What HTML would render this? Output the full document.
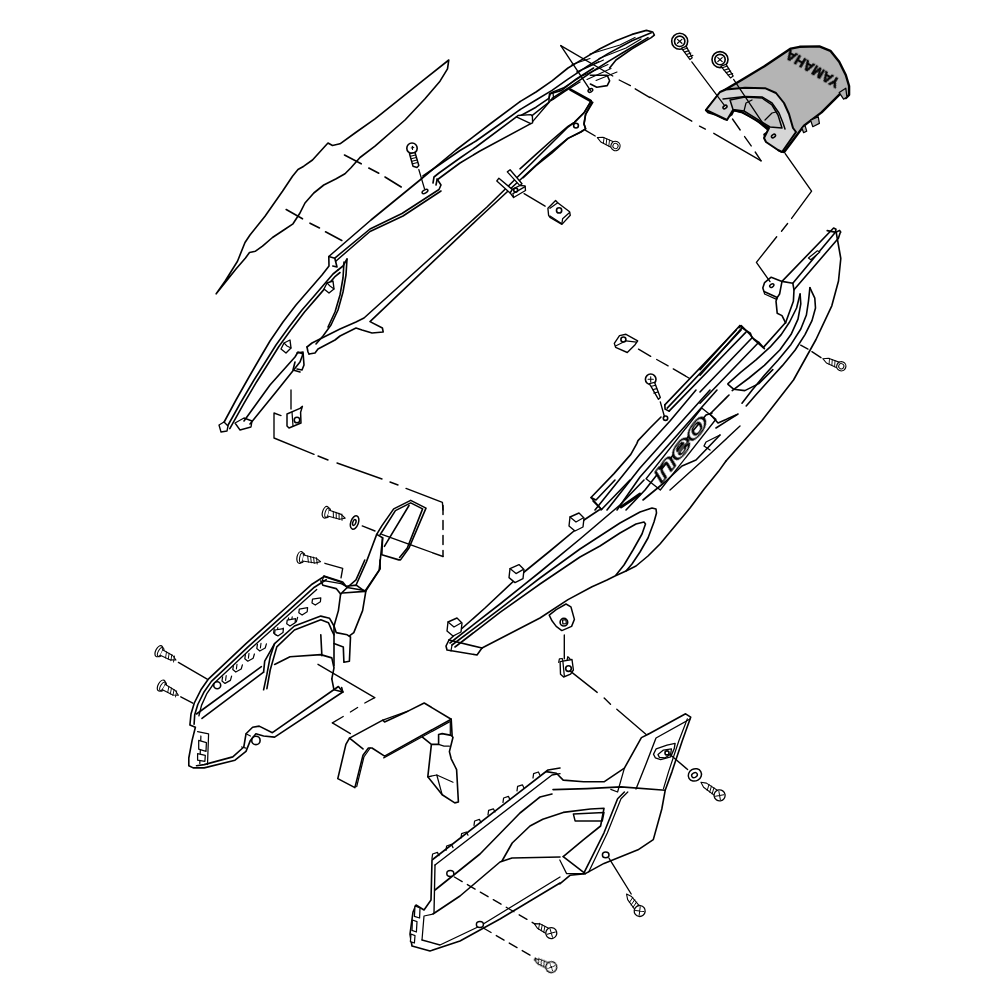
<!DOCTYPE html>
<html><head><meta charset="utf-8"><style>
html,body{margin:0;padding:0;background:#fff;}
svg{display:block;}
</style></head><body>
<svg width="1000" height="1000" viewBox="0 0 1000 1000">
<g fill="none" stroke="#000" stroke-linejoin="round" stroke-linecap="round">
<polyline points="216.2,293.8 225.0,281.2 237.5,261.2 245.0,242.5 250.0,235.0 265.0,216.2 282.5,191.2 292.5,176.2 298.0,169.5 303.8,166.2 312.5,160.0 325.0,146.2 328.0,143.0 332.5,145.5 340.0,143.8 355.0,133.0 375.0,118.8 400.0,98.8 425.0,78.8 448.8,60.0 447.5,68.8 440.0,81.2 425.0,98.8 405.0,120.0 375.0,146.2 360.0,157.5 351.2,167.5 345.0,173.8 336.2,178.8 323.8,185.0 313.8,193.0 305.0,203.0 299.5,213.8 293.0,223.8 283.8,230.0 272.5,237.5 262.5,246.2 255.5,251.2 249.5,252.5 245.5,258.0 236.2,268.8 226.2,281.2 216.2,293.8" stroke-width="1.62" />
<polyline points="344.5,155.0 361.2,163.8" stroke-width="1.62" />
<polyline points="368.8,168.0 378.8,173.2" stroke-width="1.62" />
<polyline points="385.0,177.0 401.2,187.0" stroke-width="1.62" />
<polyline points="286.2,209.5 302.5,218.8" stroke-width="1.62" />
<polyline points="310.0,223.2 319.5,228.0" stroke-width="1.62" />
<polyline points="325.5,231.8 341.8,240.5" stroke-width="1.62" />
<circle cx="412.0" cy="148.2" r="5.2" stroke-width="1.62" fill="#fff"/>
<polygon points="409.5,153.8 415.0,152.5 418.8,165.5 417.0,167.5 413.0,166.2" stroke-width="1.50" fill="#fff" />
<polyline points="410.5,156.2 415.5,155.0" stroke-width="1.12" />
<polyline points="411.2,158.8 416.2,157.5" stroke-width="1.12" />
<polyline points="412.0,161.2 417.0,160.0" stroke-width="1.12" />
<polyline points="412.8,163.8 417.5,162.5" stroke-width="1.12" />
<polyline points="411.2,148.0 413.8,147.5" stroke-width="1.12" />
<polyline points="412.5,146.2 412.5,149.5" stroke-width="1.12" />
<polyline points="418.8,169.5 424.5,188.8" stroke-width="1.25" />
<ellipse cx="425.0" cy="191.5" rx="3.2" ry="1.6" transform="rotate(-30 425.0 191.5)" stroke-width="1.50" fill="none"/>
<polyline points="520.0,101.6 536.0,92.0 552.0,80.8 568.0,68.0 584.0,58.4 600.0,48.8 616.0,40.8 632.0,34.4 646.4,30.4 652.8,32.0 654.4,35.2 651.2,37.6 632.0,48.8 616.0,60.0 609.6,68.0" stroke-width="1.62" />
<polyline points="520.0,109.6 536.0,100.0 552.0,90.4 568.0,79.2 587.2,66.4 608.0,53.6 632.0,40.8 651.2,32.8" stroke-width="1.62" />
<polyline points="520.0,116.0 536.0,107.2 548.8,98.4 550.4,93.6 561.6,90.4 576.0,79.2 593.6,68.0" stroke-width="1.62" />
<polyline points="552.0,98.4 569.6,87.2 590.4,72.8 608.0,61.6 624.0,52.0 648.0,37.6" stroke-width="1.62" />
<polyline points="591.2,100.8 584.0,112.8 574.4,122.4 568.0,126.4 552.0,140.0 536.0,154.4 520.0,168.8" stroke-width="1.62" />
<polyline points="592.8,102.4 585.6,114.4 584.0,124.0 585.6,128.8 580.8,132.0 568.0,138.4 552.0,152.8 536.0,165.6 523.2,177.6" stroke-width="1.62" />
<circle cx="576.0" cy="125.6" r="2.4" stroke-width="1.62" fill="none"/>
<polyline points="570.4,89.6 590.4,100.8" stroke-width="2.75" />
<polyline points="590.4,75.2 607.2,75.2 609.6,80.8 607.2,85.6 596.8,87.2 590.4,84.0" stroke-width="1.62" />
<ellipse cx="590.4" cy="90.4" rx="2.5" ry="1.6" transform="rotate(-30 590.4 90.4)" stroke-width="1.50" fill="none"/>
<polyline points="560.8,45.6 590.4,90.4" stroke-width="1.38" />
<polyline points="560.8,45.6 612.8,76.0" stroke-width="1.38" />
<polyline points="619.2,80.0 630.4,85.6" stroke-width="1.38" />
<polyline points="635.2,88.8 649.9,97.6" stroke-width="1.38" />
<polyline points="585.6,130.4 595.2,136.0" stroke-width="1.38" />
<g transform="translate(615.5,146) rotate(-155)"><path d="M3,-3 L15,-2.6 L20,0 L15,2.6 L3,3" stroke-width="1.1" fill="#fff"/><path d="M6,-3 l2,6 M9,-3 l2,6 M12,-3 l2,6" stroke-width="0.9"/><circle cx="0" cy="0" r="4.6" stroke-width="1.2" fill="#fff"/><circle cx="0" cy="0" r="2.6" stroke-width="1"/></g>
<polygon points="706.1,110.2 720.4,92.6 742.4,79.4 764.4,66.2 790.8,48.6 799.6,46.8 819.4,46.4 830.4,50.8 839.2,61.8 845.8,75.0 849.1,86.0 849.1,94.8 845.8,98.1 841.4,92.6 821.6,112.4 804.0,125.6 790.8,143.2 784.2,152.0 779.8,150.9 766.6,141.0 764.4,134.4 769.9,131.1 755.6,119.0 742.4,112.4 733.6,110.2 731.4,114.6 724.8,119.0 716.0,114.6 708.3,112.4" stroke-width="2.38" fill="#b4b4b4" />
<polygon points="801.8,127.8 805.1,125.6 806.7,131.1 803.6,132.7" stroke-width="1.25" fill="#b4b4b4" />
<polygon points="810.6,120.1 818.3,116.8 819.4,123.4 812.8,126.7" stroke-width="1.25" fill="#b4b4b4" />
<polygon points="839.2,92.6 845.8,88.2 846.9,97.0 843.6,99.2" stroke-width="1.25" fill="#b4b4b4" />
<polygon points="706.0,110.0 720.0,92.0 726.0,89.5 745.0,87.8 765.0,88.2 776.0,93.0 784.0,103.0 789.0,114.0 793.0,128.0 796.0,132.0 782.0,152.0 778.0,150.0 766.0,142.0 764.0,138.0 769.0,128.0 742.0,112.0 733.0,110.0 727.0,120.0" stroke-width="2.00" fill="#d6d6d6" />
<polygon points="730.0,100.0 745.0,97.0 762.0,98.0 772.0,105.0 778.0,115.0 782.0,128.0 770.0,127.0 744.0,111.0 733.0,109.5" stroke-width="1.50" fill="#c4c4c4" />
<polyline points="723.0,99.0 745.0,96.5 762.0,97.0 772.0,103.0 779.0,113.0 783.0,123.0 785.0,129.0" stroke-width="1.50" />
<polyline points="744.0,111.0 746.0,103.0 752.0,100.0" stroke-width="1.25" />
<polyline points="765.0,120.0 772.0,113.0 776.0,112.0" stroke-width="1.25" />
<ellipse cx="725.0" cy="107.0" rx="2.2" ry="1.4" transform="rotate(-35 725.0 107.0)" stroke-width="1.62" fill="#fff"/>
<ellipse cx="773.5" cy="136.0" rx="2.2" ry="1.4" transform="rotate(-35 773.5 136.0)" stroke-width="1.62" fill="#fff"/>
<circle cx="679.7" cy="41.3" r="8.0" stroke-width="1.62" fill="#fff"/>
<circle cx="679.7" cy="41.3" r="5.2" stroke-width="1.62" fill="none"/>
<polyline points="677.5,39.4 681.9,43.3" stroke-width="1.25" />
<polyline points="681.9,39.4 677.5,43.3" stroke-width="1.25" />
<polygon points="681.5,48.2 686.3,46.4 692.2,57.8 690.0,59.6" stroke-width="1.25" fill="#fff" />
<polyline points="682.6,49.7 687.0,48.2" stroke-width="1.12" />
<polyline points="684.5,52.1 688.9,50.6" stroke-width="1.12" />
<polyline points="686.5,54.5 690.9,53.0" stroke-width="1.12" />
<polyline points="688.5,57.0 692.9,55.4" stroke-width="1.12" />
<circle cx="720.0" cy="59.6" r="8.0" stroke-width="1.62" fill="#fff"/>
<circle cx="720.0" cy="59.6" r="5.2" stroke-width="1.62" fill="none"/>
<polyline points="717.8,57.6 722.2,61.6" stroke-width="1.25" />
<polyline points="722.2,57.6 717.8,61.6" stroke-width="1.25" />
<polygon points="720.8,66.2 726.1,64.4 733.2,76.1 730.5,77.9" stroke-width="1.25" fill="#fff" />
<polyline points="722.2,67.7 726.8,66.2" stroke-width="1.12" />
<polyline points="724.1,70.2 728.8,68.6" stroke-width="1.12" />
<polyline points="726.1,72.6 730.7,71.0" stroke-width="1.12" />
<polyline points="728.1,75.0 732.7,73.5" stroke-width="1.12" />
<polyline points="691.8,61.8 724.8,105.8" stroke-width="1.25" />
<polyline points="733.6,79.4 764.4,125.6" stroke-width="1.25" />
<polyline points="650.0,97.0 691.8,121.2" stroke-width="1.38" />
<polyline points="699.5,126.1 705.4,129.1" stroke-width="1.38" />
<polyline points="713.8,133.3 761.1,160.8" stroke-width="1.38" />
<polyline points="732.5,119.0 740.2,130.0" stroke-width="1.38" />
<polyline points="744.6,136.6 751.2,145.9" stroke-width="1.38" />
<polyline points="755.2,152.0 761.1,160.8" stroke-width="1.38" />
<g style="will-change:transform"><text x="0" y="0" font-family="Liberation Sans" font-weight="bold" font-size="14.5" fill="#000" stroke="#000" stroke-width="0.7" transform="translate(841,80) rotate(211)" textLength="60" lengthAdjust="spacingAndGlyphs">YAMAHA</text></g>
<polyline points="222.0,426.0 236.0,400.0 249.0,377.0 260.0,358.0 270.0,341.0 283.0,322.0 296.0,305.0 309.0,290.0 322.0,275.0 329.0,266.0 328.8,256.5 371.0,220.0 420.0,180.0 456.0,150.0 490.0,124.0 520.0,101.6" stroke-width="1.62" />
<polyline points="328.8,256.5 334.8,258.2 337.0,267.0 332.8,266.0" stroke-width="1.62" />
<polyline points="227.0,427.0 241.0,402.0 254.0,380.0 266.0,361.0 276.0,345.0 289.0,327.0 302.0,310.0 315.0,295.0 327.0,281.0 333.0,274.0 338.0,270.0" stroke-width="1.62" />
<polyline points="229.8,428.6 243.8,403.6 256.7,381.7 268.7,362.7 278.7,346.8 291.6,328.9 304.5,312.0 317.4,297.1 329.4,283.1 335.3,276.3 340.0,272.5" stroke-width="1.62" />
<polyline points="338.0,270.0 343.0,266.0 347.0,259.0" stroke-width="1.62" />
<polyline points="334.8,258.2 370.0,229.0 402.0,213.5 439.0,189.5 441.0,185.0 437.0,179.0" stroke-width="1.62" />
<polyline points="433.0,183.0 434.0,177.0 439.0,173.0 460.0,158.0 476.0,147.0 516.4,116.8" stroke-width="1.62" />
<polyline points="436.0,185.0 437.0,180.0 441.0,177.0 460.0,163.0 480.0,151.0 530.8,123.6" stroke-width="1.62" />
<polygon points="516.4,116.8 518.0,115.5 530.8,114.6 532.4,116.2 532.6,122.8 530.8,123.6" stroke-width="1.38" fill="#fff" />
<polyline points="532.0,115.6 548.8,102.4 549.4,94.0 552.4,92.2 563.2,88.0 580.0,77.2" stroke-width="1.38" />
<polyline points="532.6,121.6 550.0,101.2 553.0,99.4 564.4,91.6 580.0,82.0" stroke-width="1.38" />
<polyline points="549.4,94.0 553.0,92.6 553.6,98.8 550.0,100.0" stroke-width="1.25" />
<polyline points="336.0,261.0 370.0,231.5 403.0,216.0 441.0,191.0" stroke-width="1.62" />
<polyline points="423.0,176.0 460.0,150.5 476.0,141.0 500.0,124.0 520.0,109.6" stroke-width="1.62" />
<polygon points="219.0,425.0 224.0,422.0 228.0,426.0 227.0,431.0 221.0,432.0" stroke-width="1.38" fill="#fff" />
<polygon points="235.0,423.0 244.0,418.0 252.0,421.0 251.0,427.0 240.0,430.0" stroke-width="1.38" fill="#fff" />
<polyline points="244.0,421.0 270.0,385.0 295.0,357.0 298.0,352.0 303.0,354.0 300.0,362.0 276.0,392.0 250.0,424.0" stroke-width="1.62" />
<polyline points="297.0,353.0 303.0,352.0 304.0,365.0 302.0,370.0 297.0,369.0" stroke-width="1.62" />
<polyline points="295.0,362.0 293.0,370.0 300.0,372.0" stroke-width="1.62" />
<polygon points="281.0,349.0 284.0,343.0 290.0,340.0 291.0,348.0 286.0,353.0" stroke-width="1.38" fill="#fff" />
<polyline points="284.0,343.0 287.0,346.0 291.0,348.0" stroke-width="1.12" />
<polygon points="324.0,289.0 327.0,283.0 333.0,281.0 334.0,289.0 329.0,293.0" stroke-width="1.38" fill="#fff" />
<polyline points="327.0,283.0 330.0,286.0 334.0,289.0" stroke-width="1.12" />
<polyline points="347.0,259.0 346.0,275.0 343.0,292.0 338.0,310.0 331.0,325.0 323.0,336.0 316.0,344.0" stroke-width="1.62" />
<polyline points="344.0,262.0 343.0,278.0 340.0,295.0 335.0,312.0 328.0,327.0" stroke-width="1.62" />
<polyline points="307.0,347.0 312.0,343.0 330.0,334.0 340.0,329.0 356.0,322.0 364.0,318.0 487.0,207.0 531.8,163.0 568.0,127.0 574.4,122.4 584.0,112.8 591.2,100.8" stroke-width="1.62" />
<polyline points="309.0,354.0 315.0,353.0 318.0,349.0 335.0,340.0 340.0,336.0 356.0,328.0 362.0,330.0 372.0,333.0 383.2,332.0 382.4,328.0 370.0,321.6 480.0,217.0 541.6,160.0 568.0,138.4 580.8,132.0 585.6,128.8 584.0,124.0 585.6,114.4 592.0,102.0" stroke-width="1.62" />
<polyline points="307.0,347.0 308.0,352.0 309.0,354.0" stroke-width="1.62" />
<polyline points="827.2,230.6 836.2,232.4 840.8,258.5 838.5,281.0 831.8,305.8 816.0,339.5 793.5,380.0 762.0,420.5 726.0,461.0" stroke-width="1.62" />
<polyline points="726.0,461.0 718.4,471.6 704.0,489.2 690.0,508.0 680.0,520.0 670.0,532.0 660.0,544.0 648.0,556.0 636.0,566.0 626.0,571.0 615.0,576.0 607.0,580.0 592.0,586.8 568.0,599.6 540.0,618.0 482.0,648.0" stroke-width="1.62" />
<polyline points="482.0,648.0 449.0,640.0" stroke-width="1.62" />
<polyline points="449.0,640.0 485.0,608.0 518.0,577.0 550.0,551.0 580.0,526.0 584.0,520.0 599.0,510.0 601.5,509.5" stroke-width="1.62" />
<polyline points="449.0,640.0 446.0,646.0 447.0,650.0 477.0,655.0 482.0,648.0" stroke-width="1.62" />
<polyline points="450.0,643.0 500.0,604.0 540.0,572.0 580.0,539.0 620.0,505.0 644.0,480.0" stroke-width="1.62" />
<polyline points="452.0,645.0 500.0,608.8 540.0,578.0 580.0,549.0 600.0,536.0 620.0,523.0 640.0,512.0 652.0,508.0 656.0,509.0 656.5,513.0 654.0,522.0 648.0,538.0 640.0,552.0 632.0,564.0 626.0,571.0" stroke-width="1.62" />
<polyline points="455.0,647.0 500.0,612.4 540.0,584.0 580.0,557.0 600.0,546.0 620.0,533.0 636.0,524.0 644.0,522.0 645.5,524.0 642.0,534.0 633.0,550.0 624.0,565.0 616.0,575.0" stroke-width="1.62" />
<polyline points="452.0,645.0 451.0,651.0" stroke-width="1.25" />
<polygon points="447.0,631.0 448.0,622.0 457.0,618.0 462.0,623.0 461.0,632.0 453.0,636.0" stroke-width="1.38" fill="#fff" />
<polyline points="448.0,622.0 454.0,627.0 461.0,623.0" stroke-width="1.25" />
<polygon points="509.0,577.6 510.0,568.6 519.0,564.6 524.0,569.6 523.0,578.6 515.0,582.6" stroke-width="1.38" fill="#fff" />
<polyline points="510.0,568.6 516.0,573.6 523.0,569.6" stroke-width="1.25" />
<polygon points="569.0,526.0 570.0,517.0 579.0,513.0 584.0,518.0 583.0,527.0 575.0,531.0" stroke-width="1.38" fill="#fff" />
<polyline points="570.0,517.0 576.0,522.0 583.0,518.0" stroke-width="1.25" />
<polygon points="549.2,615.2 556.2,609.6 566.0,604.0 570.9,606.8 574.4,619.4 571.6,626.4 561.8,630.6 556.2,626.4 552.0,620.8" stroke-width="1.50" fill="#fff" />
<circle cx="563.9" cy="622.2" r="3.8" stroke-width="1.62" fill="none"/>
<polygon points="562.5,620.1 566.0,619.7 566.3,623.6 562.9,623.9" stroke-width="1.25" fill="#fff" />
<polyline points="601.5,509.5 591.0,497.5 614.0,473.6 630.8,454.4 636.8,443.6 638.0,440.6 650.0,428.0 661.0,417.0" stroke-width="1.62" />
<polyline points="591.0,497.5 596.0,500.0 615.0,480.0" stroke-width="1.62" />
<polyline points="593.0,501.0 601.5,509.5 630.0,480.0" stroke-width="1.62" />
<polyline points="664.8,404.9 736.2,330.0" stroke-width="1.62" />
<polyline points="667.2,408.1 741.1,330.0" stroke-width="1.62" />
<polyline points="669.3,410.9 746.0,332.1" stroke-width="1.62" />
<polyline points="664.8,404.9 665.1,409.1 669.3,411.2" stroke-width="1.62" />
<circle cx="665.5" cy="418.2" r="2.2" stroke-width="1.62" fill="none"/>
<polyline points="595.0,510.0 640.0,454.0 670.0,421.0 696.0,390.0" stroke-width="1.62" />
<polyline points="607.0,510.0 640.0,468.0 675.0,429.0 710.0,390.0" stroke-width="1.62" />
<polyline points="617.0,510.0 640.0,477.0 717.0,390.0" stroke-width="1.62" />
<polyline points="626.0,510.0 645.0,490.0 656.0,476.0 706.0,415.0 712.0,413.0" stroke-width="1.62" />
<polyline points="643.0,500.0 665.0,482.0 682.0,466.0 696.0,460.0 720.0,435.0" stroke-width="1.62" />
<polyline points="710.0,414.0 729.0,395.0" stroke-width="1.62" />
<polyline points="716.0,428.0 738.0,414.0" stroke-width="1.62" />
<polyline points="710.0,414.0 718.0,423.0 736.0,415.0" stroke-width="1.62" />
<polyline points="720.0,435.0 706.0,442.0 704.0,446.0 710.0,450.0" stroke-width="1.38" />
<polyline points="670.0,490.0 710.0,454.0 740.0,426.0" stroke-width="1.38" />
<polyline points="621.0,507.0 630.0,501.0 640.0,494.0" stroke-width="2.75" />
<g style="will-change:transform"><text x="0" y="0" font-family="Liberation Sans" font-weight="bold" font-style="italic" font-size="22" fill="#fff" stroke="#000" stroke-width="1.5" transform="translate(661.6,483.2) rotate(-51.8)" textLength="78" lengthAdjust="spacingAndGlyphs">neo</text></g>
<polygon points="646.1,478.8 701.7,408.0 715.9,419.2 660.3,490.0" stroke-width="1.38" fill="none" />
<polyline points="785.4,322.7 763.2,347.6 754.4,339.9 750.0,334.4 741.2,325.6 739.0,327.8" stroke-width="1.62" />
<polyline points="762.8,288.0 764.6,282.6 771.2,277.2 782.0,281.4 779.6,294.0 777.2,297.6 764.0,291.6 762.8,288.0" stroke-width="1.62" />
<polyline points="764.0,291.6 764.6,294.0 776.6,299.4 777.2,297.6" stroke-width="1.25" />
<ellipse cx="771.8" cy="285.6" rx="2.3" ry="1.5" transform="rotate(-35 771.8 285.6)" stroke-width="1.50" fill="none"/>
<polyline points="782.0,281.4 833.6,228.0 836.0,229.2 835.4,232.2 792.8,283.2 782.0,281.4" stroke-width="1.62" />
<polyline points="836.0,232.2 839.6,230.4 840.8,232.2" stroke-width="1.62" />
<polyline points="794.0,289.8 838.4,238.2 840.2,232.8" stroke-width="1.62" />
<polyline points="792.8,283.2 794.0,289.8 793.4,301.2 785.6,322.8" stroke-width="1.62" />
<polyline points="777.2,297.6 776.0,301.2 777.2,313.2 782.0,315.6 785.6,322.8" stroke-width="1.62" />
<polygon points="808.4,258.0 817.4,250.8 819.8,252.0 810.8,259.8" stroke-width="1.25" fill="#fff" />
<polyline points="809.9,287.7 814.8,298.2 815.5,308.0 812.0,320.6 805.0,334.6 795.2,350.0 782.6,365.4 768.6,380.8 756.0,394.8 746.2,406.0" stroke-width="1.62" />
<polyline points="809.9,287.7 808.5,301.0 806.4,315.0 800.8,329.0 791.0,344.4 778.4,359.8 764.4,375.2 751.8,390.6 742.0,403.2" stroke-width="1.62" />
<polyline points="800.1,294.0 800.8,303.8 798.0,319.2 791.0,334.6 779.8,350.0 764.4,365.4 749.0,378.0 732.2,390.6" stroke-width="1.62" />
<polyline points="800.1,294.0 796.6,308.0 789.6,322.0 781.2,334.6 770.0,347.2 756.0,359.8 740.6,372.4 728.0,383.6" stroke-width="1.62" />
<polyline points="739.9,325.5 700.0,369.6" stroke-width="1.62" />
<polyline points="742.0,327.9 700.0,375.2" stroke-width="1.62" />
<polyline points="752.1,337.7 700.0,392.0" stroke-width="1.62" />
<polyline points="758.8,342.3 700.0,403.2" stroke-width="1.62" />
<polyline points="739.9,325.5 742.0,327.9 750.4,333.2 752.1,337.7 758.8,342.3 764.4,348.6" stroke-width="1.62" />
<polyline points="728.0,384.3 733.6,389.2 744.8,390.6 758.8,383.6 772.8,369.6" stroke-width="1.62" />
<polyline points="324.1,576.5 312.0,584.2 290.0,604.0 268.0,623.8 246.0,643.6 224.0,664.3 208.6,678.8 200.9,689.8 194.3,703.0 191.0,714.0 189.9,725.0 195.4,727.2 192.1,740.4 188.8,758.0 188.8,765.7 193.2,767.9 204.2,767.9 235.0,760.2 246.0,751.4 250.4,740.4 255.9,733.8 263.6,736.0 274.6,737.1 342.8,692.0 341.7,687.6" stroke-width="1.62" />
<polyline points="326.2,579.7 314.4,587.2 292.6,606.8 270.6,626.6 248.6,646.4 226.6,667.1 211.4,681.4 204.2,691.7 197.8,704.5 194.7,714.7 194.1,724.2" stroke-width="1.62" />
<polyline points="316.7,589.4 294.7,609.2 272.7,629.0 250.7,648.8 228.8,669.4 213.8,683.5 207.0,693.3 201.5,705.4 198.9,715.8" stroke-width="1.38" />
<polyline points="324.1,576.5 340.6,582.0 347.2,587.5 365.9,590.8" stroke-width="1.62" />
<polyline points="320.8,580.9 323.0,585.3 336.2,588.6 340.6,594.1 347.2,587.5" stroke-width="1.62" />
<polyline points="347.2,587.5 356.0,579.8 364.8,560.0" stroke-width="1.62" />
<polyline points="365.9,590.8 380.2,568.8 380.0,560.0" stroke-width="1.62" />
<polyline points="365.9,590.8 362.6,610.6 353.8,632.6 349.4,635.9" stroke-width="1.62" />
<polyline points="340.6,594.1 338.4,610.6 334.0,626.0" stroke-width="1.62" />
<polyline points="263.6,689.8 266.9,674.4 270.2,656.8 274.6,643.6 294.4,626.0 320.8,616.1 329.6,618.3 334.0,626.0 336.2,632.6 347.2,634.8 350.5,637.0 349.4,661.2 343.9,662.3 343.3,646.9 334.0,643.6" stroke-width="1.62" />
<polyline points="266.9,688.7 270.2,670.0 276.8,646.9 294.4,630.0 320.8,619.8 328.5,622.7 331.8,630.4 334.0,634.8" stroke-width="1.62" />
<polyline points="274.6,664.5 290.0,656.8 320.8,654.6 331.8,657.9 334.0,667.8 331.8,678.8" stroke-width="1.62" />
<polyline points="320.8,634.8 321.9,655.7" stroke-width="1.62" />
<polyline points="334.0,626.0 334.0,665.6" stroke-width="1.62" />
<polyline points="202.0,718.4 263.6,672.2" stroke-width="1.62" />
<polyline points="196.5,714.0 261.4,666.7" stroke-width="1.62" />
<polyline points="263.6,672.2 264.7,661.2 274.6,643.6" stroke-width="1.62" />
<polyline points="342.8,692.0 338.4,686.5 272.4,732.7 259.2,726.1 252.6,727.2 246.0,733.8 243.8,747.0 232.8,756.9 204.2,764.6 196.5,765.7" stroke-width="1.62" />
<polyline points="342.8,692.0 334.0,689.8 331.8,678.8" stroke-width="1.62" />
<circle cx="255.9" cy="740.4" r="4.2" stroke-width="1.62" fill="none"/>
<polyline points="246.0,733.8 250.4,736.0" stroke-width="1.25" />
<polyline points="241.6,747.0 246.0,748.1" stroke-width="1.25" />
<polyline points="222.6,676.8 222.0,681.0 225.0,683.4 230.4,680.4 231.6,676.2" stroke-width="1.25" />
<polyline points="226.2,675.6 225.6,680.4" stroke-width="1.12" />
<polyline points="233.4,665.4 232.8,669.6 235.8,672.0 241.2,669.0 242.4,664.8" stroke-width="1.25" />
<polyline points="237.0,664.2 236.4,669.0" stroke-width="1.12" />
<polyline points="245.4,654.6 244.8,658.8 247.8,661.2 253.2,658.2 254.4,654.0" stroke-width="1.25" />
<polyline points="249.0,653.4 248.4,658.2" stroke-width="1.12" />
<polyline points="257.4,644.4 256.8,648.6 259.8,651.0 265.2,648.0 266.4,643.8" stroke-width="1.25" />
<polyline points="261.0,643.2 260.4,648.0" stroke-width="1.12" />
<polyline points="274.2,628.8 273.6,633.0 276.6,635.4 282.0,632.4 283.2,628.2" stroke-width="1.25" />
<polyline points="277.8,627.6 277.2,632.4" stroke-width="1.12" />
<polyline points="288.6,618.0 288.0,622.2 291.0,624.6 296.4,621.6 297.6,617.4" stroke-width="1.25" />
<polyline points="292.2,616.8 291.6,621.6" stroke-width="1.12" />
<polygon points="312.5,599.2 312.0,602.9 315.3,605.1 320.4,601.8 320.8,597.8" stroke-width="1.25" fill="#fff" />
<polygon points="299.3,609.1 298.8,612.8 302.1,615.0 307.2,611.7 307.6,607.7" stroke-width="1.25" fill="#fff" />
<polygon points="287.2,620.1 286.7,623.8 290.0,626.0 295.1,622.7 295.5,618.7" stroke-width="1.25" fill="#fff" />
<polygon points="275.0,630.0 274.6,633.7 277.9,635.9 283.0,632.6 283.4,628.6" stroke-width="1.25" fill="#fff" />
<circle cx="217.2" cy="685.2" r="3.5" stroke-width="1.62" fill="none"/>
<polyline points="197.6,731.6 208.6,733.8 207.5,764.6" stroke-width="1.25" />
<polyline points="200.9,736.0 199.8,763.5" stroke-width="1.25" />
<polygon points="198.7,740.4 206.4,742.6 206.0,751.4 198.7,749.2" stroke-width="1.25" fill="#fff" />
<polygon points="197.6,753.6 205.3,755.4 204.9,761.3 197.6,760.2" stroke-width="1.25" fill="#fff" />
<polyline points="376.7,534.4 381.8,525.9 393.7,508.9 410.7,500.4 426.0,508.1 409.0,548.0 400.5,559.9 398.8,559.9 381.8,554.8 382.6,537.8 376.7,534.4" stroke-width="1.62" />
<polyline points="380.1,534.7 395.4,510.6 410.7,502.9 422.6,508.9 407.3,548.0 399.6,557.4" stroke-width="1.62" />
<polyline points="384.4,546.3 409.0,505.5" stroke-width="1.62" />
<polyline points="376.7,534.4 366.5,561.6 356.3,584.5" stroke-width="1.62" />
<polyline points="382.6,537.8 379.2,570.1 364.8,591.4" stroke-width="1.62" />
<polyline points="324.0,576.0 342.7,582.0 346.1,586.2 356.3,585.1 364.8,591.4 342.7,593.0" stroke-width="1.62" />
<polyline points="324.0,576.0 322.3,580.3 341.0,583.7 346.1,586.2" stroke-width="1.25" />
<polyline points="443.0,505.5 443.0,556.5" stroke-width="1.50" stroke-dasharray="9 6"/>
<polyline points="443.0,556.5 381.8,534.4" stroke-width="1.38" />
<polyline points="362.2,525.9 375.0,531.0" stroke-width="1.38" />
<polyline points="324.9,563.3 342.7,568.4 341.0,577.8" stroke-width="1.38" />
<ellipse cx="354.6" cy="522.5" rx="3.8" ry="7.0" transform="rotate(20 354.6 522.5)" stroke-width="1.50" fill="#fff"/>
<ellipse cx="354.3" cy="522.5" rx="1.5" ry="3.0" transform="rotate(20 354.3 522.5)" stroke-width="1.50" fill="none"/>
<g transform="translate(325.7,512.3) rotate(16.9)"><ellipse cx="0" cy="0" rx="3.2" ry="6" stroke-width="1.2" fill="#fff"/><ellipse cx="2" cy="0" rx="2.5" ry="5" stroke-width="1"/><path d="M3,-3 L15.4,-2.5 L20.4,0 L15.4,2.5 L3,3" stroke-width="1.1" fill="#fff"/><path d="M7,-3 l2,6 M10,-3 l2,6 M13,-3 l2,6 M16,-3 l2,6" stroke-width="0.9"/></g>
<g transform="translate(300.2,557.4) rotate(11.8)"><ellipse cx="0" cy="0" rx="3.2" ry="6" stroke-width="1.2" fill="#fff"/><ellipse cx="2" cy="0" rx="2.5" ry="5" stroke-width="1"/><path d="M3,-3 L15.8,-2.5 L20.8,0 L15.8,2.5 L3,3" stroke-width="1.1" fill="#fff"/><path d="M7,-3 l2,6 M10,-3 l2,6 M13,-3 l2,6 M16,-3 l2,6" stroke-width="0.9"/></g>
<polyline points="349.5,738.1 382.8,720.1 384.6,721.9 406.2,712.0 408.0,711.1 424.2,703.0 451.2,719.2 452.1,735.4" stroke-width="1.62" />
<polyline points="382.8,720.1 408.0,711.1" stroke-width="1.25" />
<polyline points="451.2,719.2 384.6,756.1 372.0,748.0 368.4,748.0 363.0,755.2 354.9,787.6 337.8,778.6 345.9,744.4 349.5,738.1 363.0,748.9" stroke-width="1.62" />
<polyline points="449.4,721.9 383.7,757.9" stroke-width="1.25" />
<polyline points="450.3,721.0 450.3,735.4" stroke-width="1.25" />
<polyline points="370.2,748.0 363.9,757.0 356.7,786.7" stroke-width="1.25" />
<polyline points="422.4,737.2 431.4,744.4 427.8,776.8 442.2,794.8 454.8,802.9 458.4,802.0 456.6,769.6 454.8,766.0 451.2,758.8 449.4,751.6 453.0,737.2 451.2,735.4 442.2,733.6 438.6,734.5 438.6,744.4 431.4,744.4" stroke-width="1.62" />
<polyline points="438.6,744.4 444.0,746.2 449.4,746.2" stroke-width="1.25" />
<polyline points="427.8,776.8 436.8,775.0 453.0,782.2" stroke-width="1.25" />
<polyline points="436.8,775.0 442.2,794.8" stroke-width="1.25" />
<polyline points="318.0,664.3 374.7,697.6" stroke-width="1.38" />
<polyline points="374.7,697.6 364.8,703.0" stroke-width="1.38" />
<polyline points="357.6,707.5 350.4,712.0" stroke-width="1.38" />
<polyline points="343.2,716.5 332.4,722.8" stroke-width="1.38" />
<polyline points="332.4,722.8 350.4,733.6" stroke-width="1.38" />
<g transform="translate(158.9,651.2) rotate(27.2)"><ellipse cx="0" cy="0" rx="3.2" ry="6" stroke-width="1.2" fill="#fff"/><ellipse cx="2" cy="0" rx="2.5" ry="5" stroke-width="1"/><path d="M3,-3 L14.2,-2.5 L19.2,0 L14.2,2.5 L3,3" stroke-width="1.1" fill="#fff"/><path d="M7,-3 l2,6 M10,-3 l2,6 M13,-3 l2,6 M16,-3 l2,6" stroke-width="0.9"/></g>
<g transform="translate(161.3,685.6) rotate(29.3)"><ellipse cx="0" cy="0" rx="3.2" ry="6" stroke-width="1.2" fill="#fff"/><ellipse cx="2" cy="0" rx="2.5" ry="5" stroke-width="1"/><path d="M3,-3 L14.6,-2.5 L19.6,0 L14.6,2.5 L3,3" stroke-width="1.1" fill="#fff"/><path d="M7,-3 l2,6 M10,-3 l2,6 M13,-3 l2,6 M16,-3 l2,6" stroke-width="0.9"/></g>
<polyline points="178.4,662.4 207.2,679.2" stroke-width="1.38" />
<polyline points="180.8,696.8 192.8,703.2" stroke-width="1.38" />
<polyline points="648.2,734.2 685.6,713.8 690.7,717.2 682.2,741.0 672.0,771.6 665.2,790.3 661.8,809.0 653.3,839.6 638.0,849.8 604.0,863.4 585.3,873.6 570.0,875.3 559.8,883.8" stroke-width="1.62" />
<polyline points="560.0,883.0 500.0,919.0 460.0,941.0 430.0,951.0 412.0,946.0 410.0,934.0 413.0,912.0 416.0,905.0 424.0,910.0 431.0,900.0 432.0,860.0 548.0,770.0 560.0,768.0" stroke-width="1.62" />
<polyline points="546.2,771.6 556.4,773.3 563.2,780.1 583.6,781.8 604.0,781.8 624.4,768.2 641.4,737.6 648.2,734.2" stroke-width="1.62" />
<polyline points="435.0,865.0 552.0,775.0 560.0,773.6" stroke-width="1.38" />
<polyline points="435.0,865.0 434.0,913.0" stroke-width="1.38" />
<polyline points="435.0,890.0 480.0,854.0 520.0,813.0 540.0,797.0 552.0,794.0" stroke-width="1.62" />
<polyline points="553.0,789.6 587.0,788.6 621.0,786.9 665.2,790.3" stroke-width="1.62" />
<polyline points="433.0,914.0 460.0,896.0 500.0,862.0 512.0,858.0 560.0,857.0" stroke-width="1.62" />
<polyline points="422.0,940.0 440.0,945.0 480.0,926.0 560.0,877.0" stroke-width="1.38" />
<polyline points="422.0,940.0 424.0,916.0 433.0,914.0" stroke-width="1.25" />
<polyline points="687.3,718.9 678.8,741.0 668.6,771.6 663.5,788.6" stroke-width="1.25" />
<polyline points="583.6,873.6 604.0,832.8 617.6,798.8 624.4,792.0" stroke-width="1.62" />
<polyline points="588.7,871.9 607.4,832.8 621.0,798.8 627.8,792.0" stroke-width="1.25" />
<polyline points="624.4,768.2 617.6,792.0 610.8,789.3" stroke-width="1.25" />
<polyline points="636.0,789.0 646.0,764.0 656.0,738.0 690.0,719.0" stroke-width="1.38" />
<polyline points="502.0,861.0 512.2,843.0 530.0,826.0 542.8,819.2 563.2,812.4 590.4,809.0 604.0,808.3 600.6,826.0 583.6,839.6 563.2,856.6" stroke-width="1.62" />
<polyline points="573.4,814.1 604.0,812.4 602.3,820.9 575.1,820.9 573.4,814.1" stroke-width="1.50" />
<polyline points="559.8,860.0 566.6,873.6 585.3,873.6" stroke-width="1.25" />
<polyline points="563.2,856.6 585.3,873.6" stroke-width="1.62" />
<polyline points="432.0,858.4 432.6,854.0 437.4,852.4 439.0,855.6" stroke-width="1.25" />
<polyline points="446.0,850.4 446.6,846.0 451.4,844.4 453.0,847.6" stroke-width="1.25" />
<polyline points="461.0,838.0 461.6,833.6 466.4,832.0 468.0,835.2" stroke-width="1.25" />
<polyline points="474.0,825.4 474.6,821.0 479.4,819.4 481.0,822.6" stroke-width="1.25" />
<polyline points="488.0,814.8 488.6,810.4 493.4,808.8 495.0,812.0" stroke-width="1.25" />
<polyline points="503.0,802.4 503.6,798.0 508.4,796.4 510.0,799.6" stroke-width="1.25" />
<polyline points="517.0,790.8 517.6,786.4 522.4,784.8 524.0,788.0" stroke-width="1.25" />
<polyline points="533.0,778.0 533.6,773.6 538.4,772.0 540.0,775.2" stroke-width="1.25" />
<polygon points="415.0,906.0 420.0,908.0 419.6,918.0 414.4,916.4" stroke-width="1.25" fill="#fff" />
<polygon points="412.4,920.0 417.0,921.6 416.4,932.0 412.0,930.4" stroke-width="1.25" fill="#fff" />
<polygon points="411.0,934.0 415.0,935.6 414.4,943.0 410.4,941.6" stroke-width="1.25" fill="#fff" />
<ellipse cx="450.3" cy="873.6" rx="3.5" ry="3.0" transform="rotate(0 450.3 873.6)" stroke-width="1.50" fill="#fff"/>
<ellipse cx="479.9" cy="924.6" rx="3.5" ry="3.0" transform="rotate(0 479.9 924.6)" stroke-width="1.50" fill="#fff"/>
<ellipse cx="605.7" cy="854.9" rx="3.3" ry="2.8" transform="rotate(0 605.7 854.9)" stroke-width="1.50" fill="#fff"/>
<polygon points="653.5,754.2 656.2,748.8 667.0,745.2 675.1,743.4 674.2,748.8 670.6,756.9 660.7,759.6 655.3,757.8" stroke-width="1.38" fill="#fff" />
<polygon points="658.0,754.6 663.4,750.1 671.5,748.8 670.6,754.2 665.2,757.8 659.4,757.4" stroke-width="1.25" fill="#fff" />
<circle cx="667.0" cy="752.9" r="2.0" stroke-width="1.62" fill="none"/>
<polyline points="669.7,754.2 687.6,769.5" stroke-width="1.38" />
<ellipse cx="694.9" cy="774.9" rx="6.8" ry="6.0" transform="rotate(-30 694.9 774.9)" stroke-width="1.50" fill="#fff"/>
<ellipse cx="694.5" cy="775.1" rx="3.0" ry="2.3" transform="rotate(-30 694.5 775.1)" stroke-width="1.38" fill="none"/>
<polyline points="609.1,858.3 631.2,894.0" stroke-width="1.38" />
<polyline points="454.4,877.0 536.0,924.6" stroke-width="1.38" stroke-dasharray="9 6"/>
<polyline points="483.3,928.0 536.0,958.6" stroke-width="1.38" stroke-dasharray="9 6"/>
<g transform="translate(719.6,795.4) rotate(-145.0)"><path d="M3,-3 L17.8,-2.5 L22.8,0 L17.8,2.5 L3,3" stroke-width="1.1" fill="#fff"/><path d="M7,-3 l2,6 M10,-3 l2,6 M13,-3 l2,6" stroke-width="0.9"/><circle cx="0" cy="0" r="5.5" stroke-width="1.3" fill="#fff"/><path d="M-3,-3 L3,3 M3,-3 L-3,3" stroke-width="1"/></g>
<g transform="translate(639.7,911.0) rotate(-127.9)"><path d="M3,-3 L16.4,-2.5 L21.4,0 L16.4,2.5 L3,3" stroke-width="1.1" fill="#fff"/><path d="M7,-3 l2,6 M10,-3 l2,6 M13,-3 l2,6" stroke-width="0.9"/><circle cx="0" cy="0" r="5.5" stroke-width="1.3" fill="#fff"/><path d="M-3,-3 L3,3 M3,-3 L-3,3" stroke-width="1"/></g>
<g transform="translate(551.3,933.1) rotate(-150.9)"><path d="M3,-3 L14.5,-2.5 L19.5,0 L14.5,2.5 L3,3" stroke-width="1.1" fill="#fff"/><path d="M7,-3 l2,6 M10,-3 l2,6 M13,-3 l2,6" stroke-width="0.9"/><circle cx="0" cy="0" r="5.5" stroke-width="1.3" fill="#fff"/><path d="M-3,-3 L3,3 M3,-3 L-3,3" stroke-width="1"/></g>
<g transform="translate(551.3,967.1) rotate(-156.0)"><path d="M3,-3 L13.7,-2.5 L18.7,0 L13.7,2.5 L3,3" stroke-width="1.1" fill="#fff"/><path d="M7,-3 l2,6 M10,-3 l2,6 M13,-3 l2,6" stroke-width="0.9"/><circle cx="0" cy="0" r="5.5" stroke-width="1.3" fill="#fff"/><path d="M-3,-3 L3,3 M3,-3 L-3,3" stroke-width="1"/></g>
<polygon points="287.0,414.0 300.0,408.4 302.4,406.4 300.6,412.4 301.0,423.0 289.0,428.0 287.0,426.0" stroke-width="1.50" fill="#fff" />
<polyline points="292.0,412.0 293.0,426.0" stroke-width="1.25" />
<circle cx="297.0" cy="420.0" r="2.8" stroke-width="1.62" fill="none"/>
<polyline points="291.0,390.0 291.0,409.0" stroke-width="1.38" />
<polyline points="281.0,415.6 274.0,413.0 274.0,438.0 314.0,454.4" stroke-width="1.38" />
<polyline points="318.0,456.0 328.0,460.0" stroke-width="1.38" />
<polyline points="337.0,463.0 382.0,479.0" stroke-width="1.38" />
<polyline points="390.0,482.0 398.0,485.0" stroke-width="1.38" />
<polyline points="406.0,488.4 442.4,502.4 443.0,510.0" stroke-width="1.38" />
<polygon points="510.1,192.9 513.6,197.5 525.5,190.5 525.1,185.9 519.9,185.5 512.2,189.4" stroke-width="1.38" fill="#fff" />
<polygon points="496.8,181.0 498.9,178.2 512.2,189.4 510.1,192.9" stroke-width="1.38" fill="#fff" />
<polygon points="507.3,171.9 510.1,169.8 522.0,183.8 519.9,185.6" stroke-width="1.38" fill="#fff" />
<polyline points="513.6,197.5 512.9,193.6 525.1,186.6" stroke-width="1.25" />
<circle cx="515.7" cy="190.1" r="2.0" stroke-width="1.62" fill="none"/>
<polyline points="524.1,193.6 545.1,206.2" stroke-width="1.38" />
<polygon points="547.9,208.3 555.6,200.6 557.7,202.7 569.6,211.8 570.3,215.3 561.9,224.4 550.0,217.4 548.6,215.3" stroke-width="1.38" fill="#fff" />
<polyline points="550.0,216.0 561.9,223.7 562.6,218.8 569.6,212.5" stroke-width="1.25" />
<polyline points="550.0,208.3 557.7,202.7" stroke-width="1.25" />
<circle cx="559.1" cy="210.4" r="2.6" stroke-width="1.62" fill="none"/>
<polygon points="614.3,343.4 619.5,335.6 626.0,334.3 637.7,340.8 635.1,344.7 627.3,352.5 615.6,347.3" stroke-width="1.38" fill="#fff" />
<polyline points="615.6,346.0 626.0,340.8 636.4,342.1" stroke-width="1.25" />
<circle cx="623.4" cy="339.5" r="2.5" stroke-width="1.62" fill="none"/>
<polyline points="638.5,349.1 650.7,356.4" stroke-width="1.38" />
<polyline points="656.7,359.5 668.1,365.8" stroke-width="1.38" />
<polyline points="673.3,368.9 689.7,378.5" stroke-width="1.38" />
<circle cx="650.7" cy="379.3" r="5.3" stroke-width="1.62" fill="#fff"/>
<polyline points="648.1,379.3 653.3,379.3" stroke-width="1.12" />
<polyline points="650.7,376.7 650.7,381.9" stroke-width="1.12" />
<polygon points="649.4,383.7 654.6,382.4 660.3,397.5 658.5,399.3" stroke-width="1.38" fill="#fff" />
<polyline points="651.5,386.3 655.6,385.3" stroke-width="1.12" />
<polyline points="652.5,389.7 656.7,388.6" stroke-width="1.12" />
<polyline points="653.8,393.1 658.0,392.0" stroke-width="1.12" />
<polyline points="660.3,401.9 664.5,416.7" stroke-width="1.38" />
<polyline points="800.7,345.2 808.0,349.1" stroke-width="1.38" />
<polyline points="811.9,351.7 821.0,357.7" stroke-width="1.38" />
<g transform="translate(841.3,366.3) rotate(-157.6)"><path d="M3,-3 L15,-2.6 L20,0 L15,2.6 L3,3" stroke-width="1.1" fill="#fff"/><path d="M6,-3 l2,6 M9,-3 l2,6 M12,-3 l2,6" stroke-width="0.9"/><circle cx="0" cy="0" r="4.6" stroke-width="1.2" fill="#fff"/><circle cx="0" cy="0" r="2.6" stroke-width="1"/></g>
<polyline points="564.3,635.0 564.3,658.8" stroke-width="1.38" />
<polygon points="560.1,661.6 572.0,659.5 573.4,670.0 570.6,674.2 563.6,677.0 560.5,674.2" stroke-width="1.38" fill="#fff" />
<polyline points="558.7,662.3 559.4,658.8 562.2,658.5 562.9,660.9" stroke-width="1.25" />
<polyline points="567.1,660.2 567.8,656.7 569.9,658.8" stroke-width="1.25" />
<polyline points="562.9,661.6 564.3,675.6" stroke-width="1.25" />
<circle cx="568.5" cy="668.6" r="2.8" stroke-width="1.62" fill="none"/>
<polyline points="570.6,671.4 597.2,692.4" stroke-width="1.38" />
<polyline points="604.2,698.0 610.5,704.3" stroke-width="1.38" />
<polyline points="616.8,709.2 646.2,734.4" stroke-width="1.38" />
<polyline points="785.2,153.6 811.6,191.2 791.6,218.4" stroke-width="1.38" />
<polyline points="787.6,223.5 781.5,231.2" stroke-width="1.38" />
<polyline points="776.7,236.8 756.4,262.4 770.0,281.6" stroke-width="1.38" />
<polyline points="572.0,64.5 590.0,58.5" stroke-width="1.12" />
<polyline points="576.5,72.0 599.0,61.5" stroke-width="1.12" />
<polyline points="581.0,76.5 608.0,64.5" stroke-width="1.12" />
<polyline points="587.0,79.5 611.0,68.4" stroke-width="1.12" />
<polyline points="596.0,80.4 617.0,72.0" stroke-width="1.12" />
<polyline points="584.0,69.0 603.5,60.0" stroke-width="1.12" />
<polyline points="590.0,54.0 620.0,45.0 635.0,37.5" stroke-width="1.25" />
<polyline points="599.0,58.5 626.0,48.0 641.0,39.0" stroke-width="1.25" />
</g>
</svg>
</body></html>
